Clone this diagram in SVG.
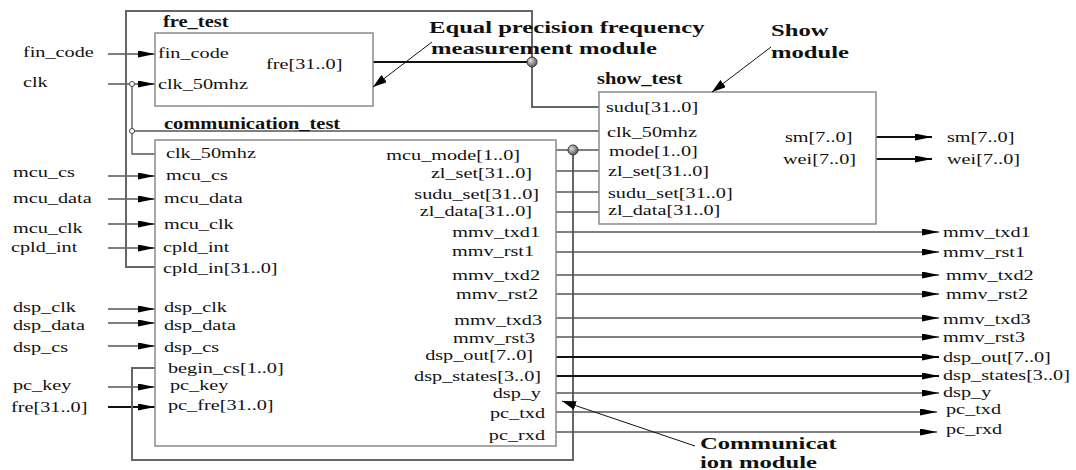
<svg xmlns="http://www.w3.org/2000/svg" width="1076" height="470" viewBox="0 0 1076 470">
<style>
.box{fill:#fff;stroke:#8a8a8a;stroke-width:1.5}
.w{fill:none;stroke:#555;stroke-width:1.3}
.bus{fill:none;stroke:#111;stroke-width:2}
.ow{fill:none;stroke:#666;stroke-width:2}
.ann{fill:none;stroke:#111;stroke-width:1}
.t{font-family:"Liberation Serif","Times New Roman",serif;font-size:15px;fill:#111}
.b{font-size:16px;font-weight:bold}
.a{font-size:17px;font-weight:bold}
.e{text-anchor:end}
.jd{fill:url(#gd);stroke:#333;stroke-width:1}
.jo{fill:#fff;stroke:#444;stroke-width:1}
</style>
<defs>
<marker id="ah" viewBox="0 0 17 7" refX="17" refY="3.5" markerWidth="17" markerHeight="7" markerUnits="userSpaceOnUse" orient="auto"><path d="M0,0 L17,3.5 L0,7 z" fill="#000"/></marker>
<marker id="an" viewBox="0 0 14 9" refX="14" refY="4.5" markerWidth="14" markerHeight="9" markerUnits="userSpaceOnUse" orient="auto"><path d="M0,0 L14,4.5 L0,9 z" fill="#000"/></marker>
<radialGradient id="gd" cx="0.35" cy="0.35" r="0.7"><stop offset="0" stop-color="#ddd"/><stop offset="1" stop-color="#555"/></radialGradient>
</defs>

<g id="connectors">
<path class="w" d="M108,54 H155" marker-end="url(#ah)"/>
<path class="w" d="M108,84 H155" marker-end="url(#ah)"/>
<path class="w" d="M108,176 H155" marker-end="url(#ah)"/>
<path class="w" d="M108,199 H155" marker-end="url(#ah)"/>
<path class="w" d="M108,224 H155" marker-end="url(#ah)"/>
<path class="w" d="M108,248 H155" marker-end="url(#ah)"/>
<path class="w" d="M108,309 H155" marker-end="url(#ah)"/>
<path class="w" d="M108,323 H155" marker-end="url(#ah)"/>
<path class="w" d="M108,346 H155" marker-end="url(#ah)"/>
<path class="w" d="M108,387 H155" marker-end="url(#ah)"/>
<path class="bus" d="M108,407 H155" marker-end="url(#ah)"/>
<path class="w" d="M132,84 V154 H155"/>
<path class="w" d="M132,131 H599"/>
<path class="bus" d="M373,62 H532"/>
<path class="ow" d="M155,267 H126 V11 H532 V107 H599"/>
<path class="ow" d="M155,368 H132 V460 H573 V150"/>
<path class="w" d="M556,150 H599"/>
<path class="w" d="M556,171 H599"/>
<path class="w" d="M556,192 H599"/>
<path class="w" d="M556,212 H599"/>
<path class="w" d="M556,232 H939" marker-end="url(#ah)"/>
<path class="w" d="M556,252 H939" marker-end="url(#ah)"/>
<path class="w" d="M556,275 H939" marker-end="url(#ah)"/>
<path class="w" d="M556,294 H939" marker-end="url(#ah)"/>
<path class="w" d="M556,318 H939" marker-end="url(#ah)"/>
<path class="w" d="M556,337 H939" marker-end="url(#ah)"/>
<path class="bus" d="M556,357 H939" marker-end="url(#ah)"/>
<path class="bus" d="M556,376 H939" marker-end="url(#ah)"/>
<path class="w" d="M556,393 H939" marker-end="url(#ah)"/>
<path class="w" d="M556,412 H937" marker-end="url(#ah)"/>
<path class="w" d="M556,432 H937" marker-end="url(#ah)"/>
<path class="bus" d="M876,137 H932" marker-end="url(#ah)"/>
<path class="bus" d="M876,159 H932" marker-end="url(#ah)"/>
<circle class="jd" cx="532" cy="62" r="5"/>
<circle class="jd" cx="573" cy="150" r="5"/>
<circle class="jo" cx="132" cy="84" r="2.5"/>
<circle class="jo" cx="132" cy="131" r="2.5"/>
</g>

<g id="fre_test">
<rect class="box" x="155" y="33" width="218" height="73"/>
<text class="t b" transform="translate(163 27) scale(1.28 1)">fre_test</text>
<text class="t" transform="translate(158 58) scale(1.35 1)">fin_code</text>
<text class="t" transform="translate(158 89) scale(1.35 1)">clk_50mhz</text>
<text class="t" transform="translate(266 69) scale(1.35 1)">fre[31..0]</text>
</g>

<g id="communication_test">
<rect class="box" x="155" y="140" width="401" height="306"/>
<text class="t b" transform="translate(164 129) scale(1.28 1)">communication_test</text>
<text class="t" transform="translate(166 158) scale(1.35 1)">clk_50mhz</text>
<text class="t" transform="translate(166 180) scale(1.35 1)">mcu_cs</text>
<text class="t" transform="translate(164 203) scale(1.35 1)">mcu_data</text>
<text class="t" transform="translate(164 229) scale(1.35 1)">mcu_clk</text>
<text class="t" transform="translate(163 252) scale(1.35 1)">cpld_int</text>
<text class="t" transform="translate(163 273) scale(1.35 1)">cpld_in[31..0]</text>
<text class="t" transform="translate(164 312) scale(1.35 1)">dsp_clk</text>
<text class="t" transform="translate(164 330) scale(1.35 1)">dsp_data</text>
<text class="t" transform="translate(164 352) scale(1.35 1)">dsp_cs</text>
<text class="t" transform="translate(168 373) scale(1.35 1)">begin_cs[1..0]</text>
<text class="t" transform="translate(170 390) scale(1.35 1)">pc_key</text>
<text class="t" transform="translate(168 410) scale(1.35 1)">pc_fre[31..0]</text>
<text class="t e" transform="translate(520 160) scale(1.35 1)">mcu_mode[1..0]</text>
<text class="t e" transform="translate(532 178) scale(1.35 1)">zl_set[31..0]</text>
<text class="t e" transform="translate(539 199) scale(1.35 1)">sudu_set[31..0]</text>
<text class="t e" transform="translate(532 216) scale(1.35 1)">zl_data[31..0]</text>
<text class="t e" transform="translate(540 237) scale(1.35 1)">mmv_txd1</text>
<text class="t e" transform="translate(534 256) scale(1.35 1)">mmv_rst1</text>
<text class="t e" transform="translate(540 280) scale(1.35 1)">mmv_txd2</text>
<text class="t e" transform="translate(538 299) scale(1.35 1)">mmv_rst2</text>
<text class="t e" transform="translate(542 325) scale(1.35 1)">mmv_txd3</text>
<text class="t e" transform="translate(535 343) scale(1.35 1)">mmv_rst3</text>
<text class="t e" transform="translate(533 360) scale(1.35 1)">dsp_out[7..0]</text>
<text class="t e" transform="translate(541 381) scale(1.35 1)">dsp_states[3..0]</text>
<text class="t e" transform="translate(541 398) scale(1.35 1)">dsp_y</text>
<text class="t e" transform="translate(545 418) scale(1.35 1)">pc_txd</text>
<text class="t e" transform="translate(545 440) scale(1.35 1)">pc_rxd</text>
</g>

<g id="show_test">
<rect class="box" x="599" y="92" width="277" height="132"/>
<text class="t b" transform="translate(597 84) scale(1.28 1)">show_test</text>
<text class="t" transform="translate(606 112) scale(1.35 1)">sudu[31..0]</text>
<text class="t" transform="translate(607 137) scale(1.35 1)">clk_50mhz</text>
<text class="t" transform="translate(609 156) scale(1.35 1)">mode[1..0]</text>
<text class="t" transform="translate(608 176) scale(1.35 1)">zl_set[31..0]</text>
<text class="t" transform="translate(608 198) scale(1.35 1)">sudu_set[31..0]</text>
<text class="t" transform="translate(608 215) scale(1.35 1)">zl_data[31..0]</text>
<text class="t" transform="translate(785 142) scale(1.35 1)">sm[7..0]</text>
<text class="t" transform="translate(783 164) scale(1.35 1)">wei[7..0]</text>
</g>

<g id="ports">
<text class="t" transform="translate(23 57) scale(1.35 1)">fin_code</text>
<text class="t" transform="translate(23 87) scale(1.35 1)">clk</text>
<text class="t" transform="translate(13 177) scale(1.35 1)">mcu_cs</text>
<text class="t" transform="translate(13 203) scale(1.35 1)">mcu_data</text>
<text class="t" transform="translate(13 233) scale(1.35 1)">mcu_clk</text>
<text class="t" transform="translate(11 252) scale(1.35 1)">cpld_int</text>
<text class="t" transform="translate(13 312) scale(1.35 1)">dsp_clk</text>
<text class="t" transform="translate(13 330) scale(1.35 1)">dsp_data</text>
<text class="t" transform="translate(13 352) scale(1.35 1)">dsp_cs</text>
<text class="t" transform="translate(13 390) scale(1.35 1)">pc_key</text>
<text class="t" transform="translate(11 412) scale(1.35 1)">fre[31..0]</text>
<text class="t" transform="translate(947 142) scale(1.35 1)">sm[7..0]</text>
<text class="t" transform="translate(947 164) scale(1.35 1)">wei[7..0]</text>
<text class="t" transform="translate(943 237) scale(1.35 1)">mmv_txd1</text>
<text class="t" transform="translate(943 257) scale(1.35 1)">mmv_rst1</text>
<text class="t" transform="translate(946 280) scale(1.35 1)">mmv_txd2</text>
<text class="t" transform="translate(946 299) scale(1.35 1)">mmv_rst2</text>
<text class="t" transform="translate(943 324) scale(1.35 1)">mmv_txd3</text>
<text class="t" transform="translate(943 342) scale(1.35 1)">mmv_rst3</text>
<text class="t" transform="translate(943 362) scale(1.35 1)">dsp_out[7..0]</text>
<text class="t" transform="translate(943 380) scale(1.35 1)">dsp_states[3..0]</text>
<text class="t" transform="translate(943 397) scale(1.35 1)">dsp_y</text>
<text class="t" transform="translate(946 414) scale(1.35 1)">pc_txd</text>
<text class="t" transform="translate(946 434) scale(1.35 1)">pc_rxd</text>
</g>

<g id="annotations">
<text class="t a" transform="translate(429 33) scale(1.45 1)">Equal precision frequency</text>
<text class="t a" transform="translate(431 54) scale(1.45 1)">measurement module</text>
<path class="ann" d="M432,42 L373,87" marker-end="url(#an)"/>
<text class="t a" transform="translate(771 36) scale(1.45 1)">Show</text>
<text class="t a" transform="translate(771 58) scale(1.45 1)">module</text>
<path class="ann" d="M771,47 L712,92" marker-end="url(#an)"/>
<text class="t a" transform="translate(700 449) scale(1.45 1)">Communicat</text>
<text class="t a" transform="translate(700 468) scale(1.45 1)">ion module</text>
<path class="ann" d="M695,446 L562,401" marker-end="url(#an)"/>
</g>
</svg>
